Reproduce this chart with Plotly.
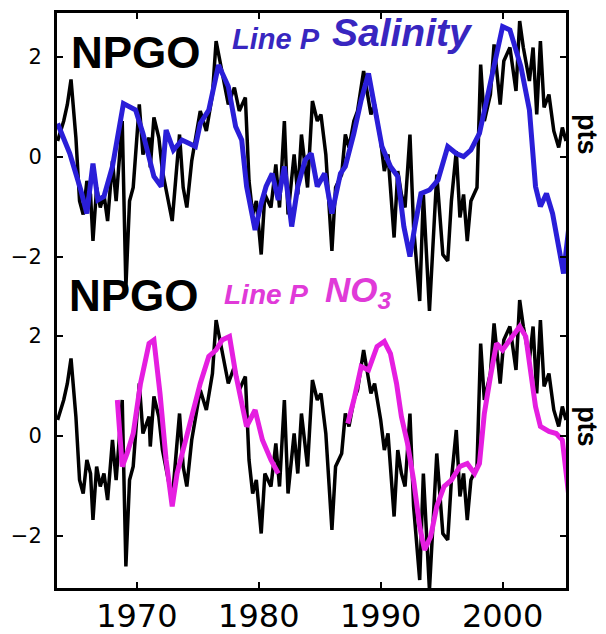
import plotly.graph_objects as go

# NPGO index (black)
npgo_year = [1963.5, 1964.0, 1964.3, 1964.6, 1965.0, 1965.3, 1965.6, 1965.9, 1966.2, 1966.4,
             1966.7, 1967.0, 1967.3, 1967.6, 1968.0, 1968.3, 1968.8, 1969.1, 1969.4, 1969.7,
             1970.2, 1970.5, 1971.0, 1971.1, 1971.4, 1971.8, 1972.1, 1972.6, 1972.9, 1973.2,
             1973.5, 1973.8, 1974.1, 1974.5, 1974.9, 1975.2, 1975.7, 1976.2, 1976.5, 1977.0,
             1977.5, 1978.0, 1978.4, 1978.9, 1979.2, 1979.5, 1979.8, 1980.2, 1980.5, 1981.0,
             1981.4, 1981.7, 1982.1, 1982.4, 1982.9, 1983.2, 1983.5, 1984.0, 1984.4, 1984.8,
             1985.1, 1985.5, 1986.0, 1986.3, 1986.8, 1987.1, 1987.4, 1987.8, 1988.1, 1988.6,
             1988.9, 1989.2, 1989.5, 1990.0, 1990.3, 1990.6, 1991.1, 1991.4, 1991.7, 1992.0,
             1992.4, 1992.7, 1993.2, 1993.5, 1994.0, 1994.3, 1994.6, 1995.1, 1995.5, 1995.8,
             1996.2, 1996.5, 1996.8, 1997.1, 1997.4, 1997.9, 1998.2, 1998.5, 1999.0, 1999.3,
             1999.8, 2000.1, 2000.6, 2001.1, 2001.4, 2001.7, 2002.2, 2002.5, 2002.8, 2003.1,
             2003.4, 2003.8, 2004.2, 2004.6, 2004.9, 2005.2]
npgo_val = [0.32, 0.72, 1.05, 1.55, 0.39, -0.88, -1.15, -0.48, -0.75, -1.68,
            -0.61, -1.01, -0.75, -1.28, -0.08, -0.88, 0.72, -2.61, -0.88, -0.61,
            1.05, 0.05, 0.39, -0.21, 0.79, 0.39, -0.28, -0.88, -1.28, -0.41,
            0.45, -0.61, -1.01, -0.08, 0.45, 0.92, 0.52, 1.25, 2.32, 1.65,
            1.05, 1.39, 0.92, 1.19, -0.48, -1.15, -0.88, -1.95, -0.75, -1.01,
            -0.15, -1.01, 0.72, -1.15, 0.05, -0.75, 0.45, -0.61, 1.12, 0.72,
            0.85, 0.05, -1.88, -0.61, -0.35, 0.45, 0.19, 0.72, 0.92, 1.72,
            1.32, 0.85, 1.05, 0.32, -0.28, 0.05, -1.61, -0.28, -0.75, -1.01,
            0.45, -1.41, -2.88, -0.75, -3.08, -1.55, -0.35, -1.95, -2.08, -0.88,
            0.12, -1.21, -0.75, -1.68, -0.88, -0.61, 1.85, 0.72, 1.25, 2.25,
            1.05, 1.92, 2.19, 1.32, 2.72, 2.19, 1.52, 2.19, 0.85, 2.32,
            0.99, 1.25, 0.52, 0.19, 0.59, 0.32]

# Line P salinity (blue)
sal_year = [1963.5, 1964.5, 1965.4, 1965.9, 1966.4, 1966.8, 1967.3, 1968.0, 1968.9, 1969.9,
            1970.5, 1971.4, 1972.0, 1972.4, 1973.0, 1973.7, 1974.3, 1974.8, 1975.2, 1975.9,
            1976.7, 1977.5, 1978.1, 1978.6, 1979.0, 1979.7, 1980.2, 1980.6, 1981.1, 1981.6,
            1982.1, 1982.7, 1983.2, 1983.8, 1984.3, 1984.8, 1985.4, 1986.0, 1986.7, 1987.1,
            1987.8, 1988.4, 1989.0, 1989.7, 1990.1, 1990.8, 1991.4, 1991.9, 1992.4, 1992.8,
            1993.3, 1994.0, 1994.7, 1995.5, 1996.2, 1996.8, 1997.4, 1998.1, 1998.7, 1999.3,
            2000.0, 2000.6, 2001.1, 2001.5, 2002.2, 2002.7, 2003.1, 2003.6, 2004.1, 2004.6,
            2005.0, 2005.5]
sal_val = [0.67, 0.07, -0.66, -1.13, -0.13, -0.86, -0.79, -0.19, 1.07, 0.94,
           0.47, -0.39, -0.59, 0.54, 0.14, 0.34, 0.27, 0.21, 0.67, 0.94,
           1.84, 1.41, 0.61, 0.34, -0.59, -1.46, -0.93, -0.59, -0.33, -0.86,
           -0.19, -1.39, -0.59, -0.06, 0.07, -0.59, -0.33, -1.13, -0.33, -0.19,
           0.47, 1.14, 1.67, 0.81, 0.21, -0.19, -0.39, -1.39, -1.99, -1.39,
           -0.73, -0.66, -0.46, 0.21, 0.07, 0.01, 0.14, 0.47, 1.14, 1.81,
           2.61, 2.54, 2.14, 1.81, 0.94, -0.59, -0.99, -0.73, -1.13, -1.79,
           -2.33, -1.26]

# Line P NO3 (magenta); None marks the gap in the record
no3_year = [1968.4, 1968.8, 1969.2, 1969.7, 1970.3, 1971.0, 1971.4, 1971.9, 1972.4, 1972.9,
            1973.3, 1974.0, 1974.6, 1975.2, 1975.9, 1976.5, 1977.0, 1977.6, 1978.1, 1978.6,
            1979.0, 1979.7, 1980.3, 1981.0, 1981.6, 1984.5,
            1987.3, 1987.8, 1988.4, 1989.0, 1989.7, 1990.3, 1990.8, 1991.3, 1991.7, 1992.2,
            1992.7, 1993.2, 1993.6, 1994.1, 1994.6, 1995.2, 1995.8, 1996.5, 1997.1, 1997.7,
            1998.1, 1998.5, 1999.0, 1999.5, 2000.0, 2000.4, 2000.9, 2001.4, 2001.9, 2002.3,
            2002.7, 2003.1, 2003.8, 2004.4, 2004.9, 2005.5]
no3_val = [0.72, -0.61, -0.35, 0.05, 1.05, 1.85, 1.92, 0.85, -0.48, -1.41,
           -0.75, -0.08, 0.45, 1.05, 1.59, 1.72, 1.92, 1.99, 1.25, 0.72,
           0.19, 0.52, -0.08, -0.48, -0.75, None,
           0.25, 0.72, 1.39, 1.32, 1.79, 1.89, 1.65, 1.05, 0.39, -0.15,
           -0.88, -1.81, -2.28, -2.01, -1.41, -1.01, -0.88, -0.61, -0.55, -0.75,
           -0.55, 0.45, 1.19, 1.85, 1.72, 1.85, 1.99, 2.19, 1.99, 1.19,
           0.59, 0.19, 0.09, 0.05, -0.08, -1.35]

x_tickvals = [1970, 1980, 1990, 2000]
x_ticktext = ["1970", "1980", "1990", "2000"]
y_tickvals = [-2, 0, 2]
y_ticktext = ["\u22122", "0", "2"]

BLUE = "#2a1ed8"
MAGENTA = "#e51ee0"

fig = go.Figure()
# upper panel
fig.add_trace(go.Scatter(x=npgo_year, y=npgo_val, mode="lines",
                         line=dict(color="black", width=3.5), yaxis="y", showlegend=False))
fig.add_trace(go.Scatter(x=sal_year, y=sal_val, mode="lines",
                         line=dict(color=BLUE, width=5), yaxis="y", showlegend=False))
# lower panel
fig.add_trace(go.Scatter(x=npgo_year, y=npgo_val, mode="lines",
                         line=dict(color="black", width=3.5), yaxis="y2", showlegend=False))
fig.add_trace(go.Scatter(x=no3_year, y=no3_val, mode="lines", connectgaps=False,
                         line=dict(color=MAGENTA, width=5), yaxis="y2", showlegend=False))

axis_common = dict(showline=True, linecolor="black", linewidth=3, mirror="ticks",
                   ticks="inside", ticklen=6, tickwidth=2, tickcolor="black",
                   showgrid=False, zeroline=False, automargin=False)

# page body adds an 8px margin, so the figure is 8px smaller than the window
fig.update_layout(
    width=598, height=626,
    margin=dict(l=49, r=40, t=5, b=46, autoexpand=False),
    paper_bgcolor="white", plot_bgcolor="white",
    xaxis=dict(range=[1963.45, 2005.2], tickvals=x_tickvals, ticktext=x_ticktext,
               tickfont=dict(family="DejaVu Sans", size=32, color="black"),
               ticklabelstandoff=-2, **axis_common),
    yaxis=dict(range=[-8.62, 2.88], tickvals=y_tickvals, ticktext=y_ticktext,
               tickfont=dict(family="DejaVu Sans", size=21, color="black"),
               ticklabelstandoff=8, **axis_common),
    yaxis2=dict(range=[-3.04, 8.46], tickvals=y_tickvals, ticktext=y_ticktext,
                overlaying="y", side="left", anchor="x",
                tickfont=dict(family="DejaVu Sans", size=21, color="black"),
                ticklabelstandoff=8, **axis_common),
)

def ann(text, x, y, size, color, xanchor="left", angle=0, family="Liberation Sans"):
    fig.add_annotation(text=text, xref="paper", yref="paper", x=x, y=y,
                       xanchor=xanchor, yanchor="middle", showarrow=False,
                       textangle=angle,
                       font=dict(family=family, size=size, color=color))

ann("<b>NPGO</b>", 0.155, 0.932, 44, "black", xanchor="center")
ann("<b><i>Line P</i></b>", 0.340, 0.955, 29, "#3826c0")
ann("<b><i>Salinity</i></b>", 0.536, 0.966, 39, "#3826c0")
ann("<b>NPGO</b>", 0.151, 0.508, 44, "black", xanchor="center")
ann("<b><i>Line P</i></b>", 0.324, 0.511, 28, "#e03ad8")
ann("<b><i>NO<sub>3</sub></i></b>", 0.523, 0.515, 35, "#e03ad8")
ann("<b>pts</b>", 1.041, 0.788, 27, "black", xanchor="center", angle=90)
ann("<b>pts</b>", 1.041, 0.280, 27, "black", xanchor="center", angle=90)

fig.write_html("out.html")
